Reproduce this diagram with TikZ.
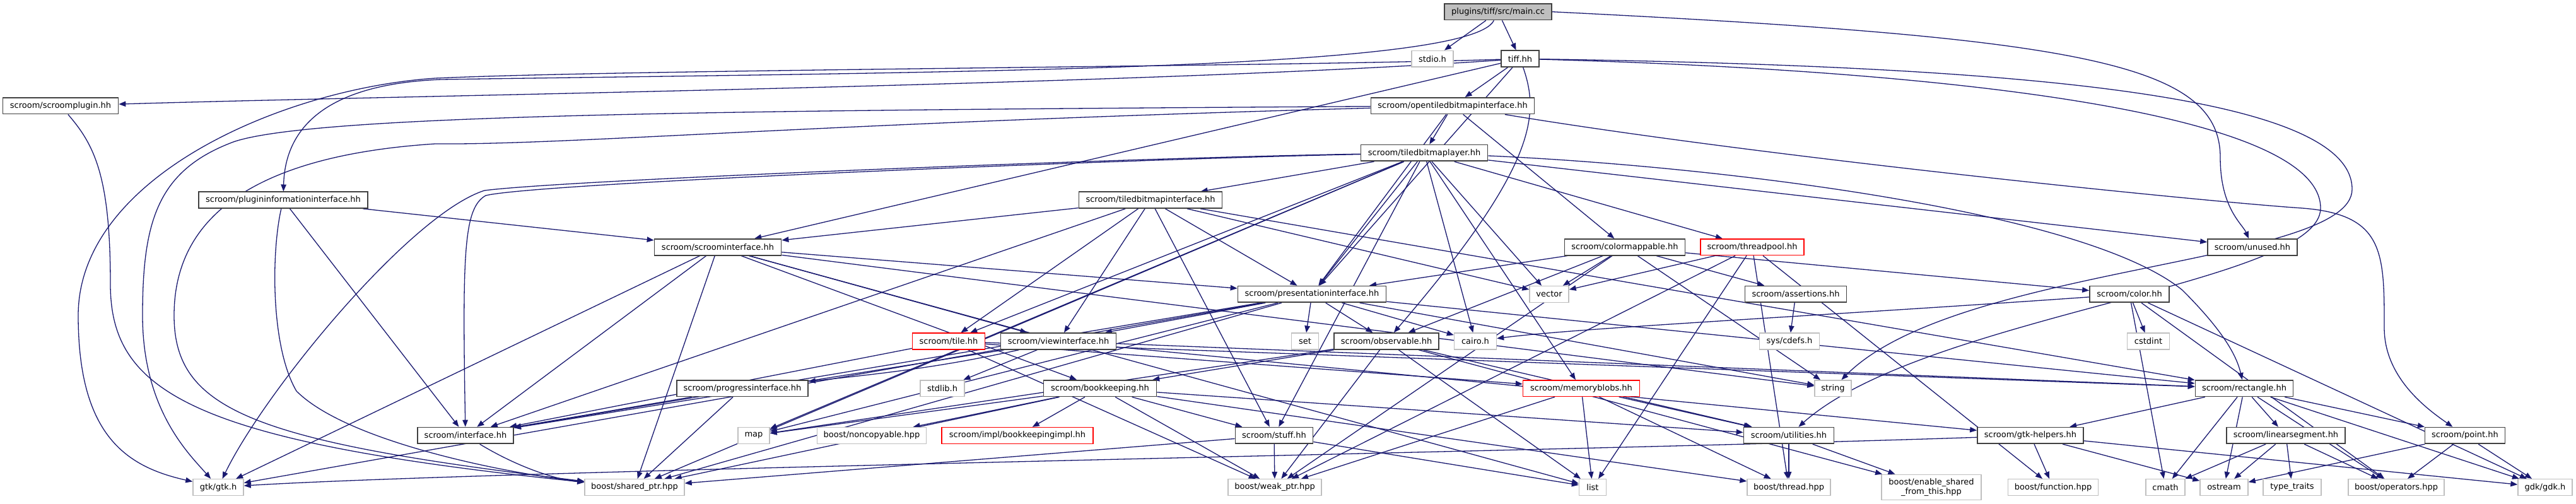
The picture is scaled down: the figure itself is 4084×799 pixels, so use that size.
\documentclass[tikz,border=0pt]{standalone}
\usepackage{fontspec}
\setmainfont{DejaVu Sans}
\usetikzlibrary{arrows.meta,calc}
\definecolor{edgeblue}{RGB}{25,25,112}
\definecolor{sysgray}{RGB}{191,191,191}
\definecolor{boxgray}{RGB}{64,64,64}
\pgfdeclarelayer{bglayer}
\pgfdeclarelayer{edgelayer}
\pgfsetlayers{bglayer,edgelayer,main}
\tikzset{
  nb/.style={draw=boxgray, line width=1.7pt, fill=white, minimum height=25.7pt, inner sep=0pt, font=\fontsize{13}{14.7}\selectfont, text=black},
  sysb/.style={nb, draw=sysgray, line width=1.4pt},
  redb/.style={nb, draw=red, line width=1.4pt},
  mainb/.style={nb, fill=sysgray},
  e/.style={draw=edgeblue, line width=1.3pt, -{Triangle[length=11pt,width=8.5pt]}},
}
\newcommand\edg[2]{\draw[e] (#1) -- (#2);}
\begin{document}
\begin{tikzpicture}[x=1pt,y=-1pt]
\begin{pgfonlayer}{bglayer}
\fill[white] (0,0) rectangle (4084,799);
\end{pgfonlayer}
\useasboundingbox (0,0) rectangle (4084,799);
% row 0
\node[mainb, minimum width=170pt] (main) at (2375,18.7) {plugins/tiff/src/main.cc};
% row 1
\node[sysb, minimum width=66pt] (stdio) at (2271,93.2) {stdio.h};
\node[nb, minimum width=60pt] (tiff) at (2410,93.2) {tiff.hh};
% row 2
\node[nb, minimum width=183pt] (splug) at (96,167.8) {scroom/scroomplugin.hh};
\node[nb, minimum width=259pt] (otbi) at (2303,167.8) {scroom/opentiledbitmapinterface.hh};
% row 3
\node[nb, minimum width=201pt] (tbl) at (2258,242.5) {scroom/tiledbitmaplayer.hh};
% row 4
\node[nb, minimum width=268pt] (pii) at (449,317.2) {scroom/plugininformationinterface.hh};
\node[nb, minimum width=227pt] (tbi) at (1824,317.2) {scroom/tiledbitmapinterface.hh};
% row 5
\node[nb, minimum width=201pt] (si) at (1138,391.8) {scroom/scroominterface.hh};
\node[nb, minimum width=191pt] (cm) at (2576,391.8) {scroom/colormappable.hh};
\node[redb, minimum width=164pt] (tp) at (2778,391.8) {scroom/threadpool.hh};
\node[nb, minimum width=142pt] (unused) at (3571,391.8) {scroom/unused.hh};
% row 6
\node[nb, minimum width=235pt] (pi) at (2080,466.4) {scroom/presentationinterface.hh};
\node[sysb, minimum width=62pt] (vec) at (2456,466.4) {vector};
\node[nb, minimum width=161pt] (asrt) at (2847,466.4) {scroom/assertions.hh};
\node[nb, minimum width=126pt] (color) at (3376,466.4) {scroom/color.hh};
% row 7
\node[redb, minimum width=115pt] (tile) at (1504,541) {scroom/tile.hh};
\node[nb, minimum width=183pt] (vi) at (1678,541) {scroom/viewinterface.hh};
\node[sysb, minimum width=43pt] (set) at (2069,541) {set};
\node[nb, minimum width=166pt] (obs) at (2198,541) {scroom/observable.hh};
\node[sysb, minimum width=67pt] (cairo) at (2339,541) {cairo.h};
\node[sysb, minimum width=95pt] (cdefs) at (2837,541) {sys/cdefs.h};
\node[sysb, minimum width=67pt] (cstdint) at (3406,541) {cstdint};
% row 8
\node[sysb, minimum width=70pt] (stdlib) at (1494,615.7) {stdlib.h};
\node[nb, minimum width=179pt] (bk) at (1744,615.7) {scroom/bookkeeping.hh};
\node[nb, minimum width=208pt] (prog) at (1177,615.7) {scroom/progressinterface.hh};
\node[redb, minimum width=185pt] (mb) at (2507,615.7) {scroom/memoryblobs.hh};
\node[sysb, minimum width=58pt] (str) at (2906,615.7) {string};
\node[nb, minimum width=155pt] (rect) at (3558,615.7) {scroom/rectangle.hh};
% row 9
\node[nb, minimum width=152pt] (iface) at (738,690.4) {scroom/interface.hh};
\node[sysb, minimum width=50pt] (map) at (1195,690.4) {map};
\node[sysb, minimum width=173pt] (nonc) at (1382,690.4) {boost/noncopyable.hpp};
\node[redb, minimum width=240pt] (bki) at (1613,690.4) {scroom/impl/bookkeepingimpl.hh};
\node[nb, minimum width=123pt] (stuff) at (2020,690.4) {scroom/stuff.hh};
\node[nb, minimum width=143pt] (util) at (2836,690.4) {scroom/utilities.hh};
\node[nb, minimum width=168pt] (gtkh) at (3219,690.4) {scroom/gtk-helpers.hh};
\node[nb, minimum width=188pt] (lseg) at (3624,690.4) {scroom/linearsegment.hh};
\node[nb, minimum width=127pt] (point) at (3908,690.4) {scroom/point.hh};
% row 10
\node[sysb, minimum width=80pt] (gtk) at (346,772.5) {gtk/gtk.h};
\node[sysb, minimum width=158pt] (sptr) at (1006,772.5) {boost/shared\_ptr.hpp};
\node[sysb, minimum width=148pt] (wptr) at (2021,772.5) {boost/weak\_ptr.hpp};
\node[sysb, minimum width=43pt] (list) at (2525,772.5) {list};
\node[sysb, minimum width=132pt] (thread) at (2836,772.5) {boost/thread.hpp};
\node[sysb, minimum width=158pt, minimum height=40.4pt, align=center] (esft) at (3062,772.5) {boost/enable\_shared\\\_from\_this.hpp};
\node[sysb, minimum width=143pt] (func) at (3255,772.5) {boost/function.hpp};
\node[sysb, minimum width=62pt] (cmath) at (3433,772.5) {cmath};
\node[sysb, minimum width=76pt] (ostream) at (3526,772.5) {ostream};
\node[sysb, minimum width=92pt] (tt) at (3634,772.5) {type\_traits};
\node[sysb, minimum width=152pt] (ops) at (3799,772.5) {boost/operators.hpp};
\node[sysb, minimum width=86pt] (gdk) at (4035,772.5) {gdk/gdk.h};

\begin{pgfonlayer}{edgelayer}
% main.cc
\edg{main}{stdio}
\edg{main}{tiff}
\draw[e] (main.east) .. controls (3300,60) and (3520,100) .. (3520,250) .. controls (3520,330) and (3555,355) .. (unused);
\draw[e] (main) .. controls (2330,112) and (1500,114) .. (700,126) .. controls (520,133) and (452,200) .. (pii);
% tiff.hh
\draw[e] (tiff) .. controls (2000,106) and (1000,110) .. (690,124) .. controls (450,140) and (124,280) .. (124,500) .. controls (124,690) and (200,740) .. (gtk);
\draw[e] (tiff) .. controls (1800,135) and (700,150) .. (splug);
\edg{tiff}{otbi}
\edg{tiff}{si}
\draw[e] (tiff) .. controls (2440,180) and (2440,260) .. (obs);
\edg{tiff}{pi}
\draw[e] (tiff) .. controls (3200,105) and (3729,150) .. (3729,300) .. controls (3729,420) and (3100,420) .. (str);
\draw[e] (tiff) .. controls (3100,112) and (3679,180) .. (3679,330) .. controls (3679,450) and (3050,500) .. (util);
% scroomplugin
\draw[e] (splug) .. controls (150,230) and (175,280) .. (175,450) .. controls (175,620) and (300,700) .. (sptr);
% opentiled
\edg{otbi}{tbl}
\edg{otbi}{cm}
\draw[e] (otbi) .. controls (1200,175) and (500,180) .. (370,225) .. controls (250,270) and (226,350) .. (226,500) .. controls (226,650) and (300,720) .. (gtk);
\draw[e] (otbi) .. controls (1300,195) and (900,230) .. (690,228) .. controls (350,250) and (276,380) .. (276,500) .. controls (276,650) and (400,700) .. (sptr);
\edg{otbi}{pi}
\draw[e] (otbi) .. controls (2800,250) and (3500,320) .. (3650,330) .. controls (3780,340) and (3780,400) .. (3780,520) .. controls (3780,600) and (3850,650) .. (point);
% tiledbitmaplayer
\edg{tbl}{tbi}
\edg{tbl}{tile}
\edg{tbl}{pi}
\edg{tbl}{tp}
\edg{tbl}{mb}
\edg{tbl}{stuff}
\edg{tbl}{vec}
\edg{tbl}{map}
\draw[e] (tbl) .. controls (1800,252) and (850,290) .. (770,310) .. controls (735,330) and (733,400) .. (iface);
\edg{tbl}{sptr}
\draw[e] (tbl) .. controls (1800,250) and (900,285) .. (768,302) .. controls (650,340) and (420,620) .. (gtk);
\draw[e] (tbl) .. controls (2700,262) and (3300,330) .. (3460,460) .. controls (3520,520) and (3545,560) .. (rect);
\edg{tbl}{unused}
\edg{tbl}{cairo}
% plugininformationinterface
\draw[e] (pii) .. controls (430,400) and (429,550) .. (470,620) .. controls (550,700) and (800,750) .. (sptr);
\edg{pii}{iface}
\edg{pii}{si}
% tiledbitmapinterface
\edg{tbi}{tile}
\edg{tbi}{vi}
\edg{tbi}{pi}
\edg{tbi}{stuff}
\edg{tbi}{iface}
\edg{tbi}{vec}
\edg{tbi}{rect}
\edg{tbi}{si}
% scroominterface
\edg{si}{gtk}
\edg{si}{sptr}
\edg{si}{iface}
\edg{si}{pi}
\edg{si}{vi}
\edg{si}{bk}
\edg{si}{str}
\edg{si}{list}
% colormappable
\edg{cm}{vec}
\edg{cm}{obs}
\edg{cm}{pi}
\edg{cm}{color}
\edg{cm}{asrt}
\edg{cm}{str}
\edg{cm}{wptr}
% threadpool
\edg{tp}{vec}
\edg{tp}{thread}
\edg{tp}{func}
\edg{tp}{list}
\edg{tp}{wptr}
% presentationinterface
\edg{pi}{set}
\edg{pi}{obs}
\edg{pi}{cairo}
\edg{pi}{vi}
\edg{pi}{rect}
\edg{pi}{map}
\edg{pi}{str}
\edg{pi}{gtk}
\edg{pi}{sptr}
\edg{pi}{iface}
% assertions
\edg{asrt}{cdefs}
% color
\draw[e] (color) .. controls (2900,500) and (2500,520) .. (cairo);
\edg{color}{cstdint}
\edg{color}{cmath}
\edg{color}{ops}
\edg{color}{gdk}
% tile
\edg{tile}{iface}
\edg{tile}{mb}
\edg{tile}{wptr}
\edg{tile}{rect}
% viewinterface
\edg{vi}{stdlib}
\draw[e] (vi) .. controls (1500,580) and (1420,590) .. (prog);
\edg{vi}{iface}
\edg{vi}{rect}
\edg{vi}{gtkh}
% observable
\edg{obs}{map}
\edg{obs}{wptr}
\edg{obs}{list}
\edg{obs}{util}
\edg{obs}{bk}
\edg{obs}{esft}
% bookkeeping
\edg{bk}{map}
\edg{bk}{nonc}
\edg{bk}{bki}
\edg{bk}{stuff}
\edg{bk}{wptr}
\edg{bk}{sptr}
\edg{bk}{thread}
\edg{bk}{util}
% progressinterface
\edg{prog}{sptr}
\edg{prog}{iface}
% memoryblobs
\edg{mb}{list}
\edg{mb}{wptr}
\edg{mb}{thread}
\edg{mb}{util}
% rectangle
\edg{rect}{cmath}
\edg{rect}{ostream}
\edg{rect}{lseg}
\edg{rect}{point}
\edg{rect}{ops}
\edg{rect}{gtkh}
\edg{rect}{gdk}
% interface
\draw[e] (iface) .. controls (820,740) and (880,760) .. (sptr);
% stuff
\edg{stuff}{sptr}
\edg{stuff}{wptr}
\edg{stuff}{list}
% utilities
\edg{util}{thread}
\edg{util}{esft}
% gtk-helpers
\edg{gtkh}{func}
\draw[e] (gtkh) .. controls (2500,715) and (800,745) .. (gtk);
\edg{gtkh}{ostream}
\edg{gtkh}{gdk}
% linearsegment
\edg{lseg}{cmath}
\edg{lseg}{ostream}
\edg{lseg}{tt}
\edg{lseg}{ops}
% point
\edg{point}{ostream}
\edg{point}{ops}
\edg{point}{gdk}
\end{pgfonlayer}
\end{tikzpicture}
\end{document}
